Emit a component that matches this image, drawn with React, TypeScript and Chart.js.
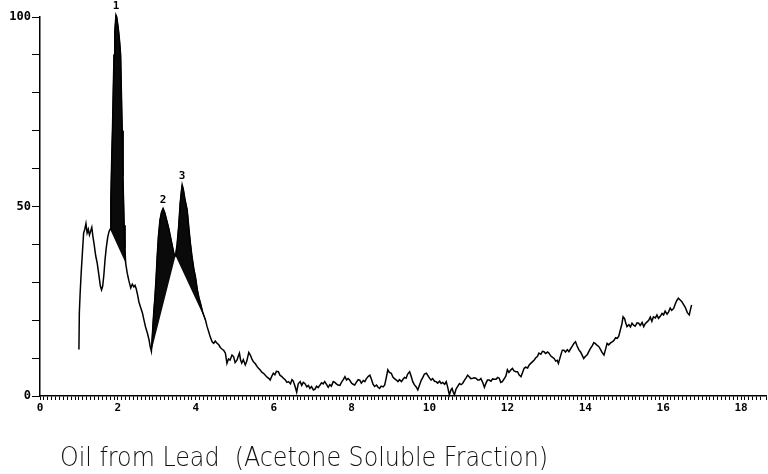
import React, { useEffect, useRef } from "react";
import { Chart, registerables } from "chart.js";

Chart.register(...registerables);

// Retention time (min) and detector response (%) — early part with the three marked peaks
const timeA = [
  0.98, 1.0, 1.01, 1.03, 1.06, 1.09, 1.12, 1.15, 1.18, 1.21, 1.24, 1.27, 1.3, 1.33, 1.36, 1.39, 1.43, 1.47,
  1.51, 1.55, 1.58, 1.61, 1.64, 1.67, 1.7, 1.74, 1.77, 1.8,
  1.82, 1.84, 1.86, 1.88, 1.9, 1.92, 1.95, 1.97, 2.01, 2.04, 2.07, 2.09, 2.11, 2.13, 2.16, 2.18, 2.2,
  2.24, 2.28, 2.33, 2.37, 2.41, 2.44, 2.47, 2.51, 2.54, 2.58, 2.63, 2.67, 2.71, 2.76, 2.8, 2.83, 2.86,
  2.89, 2.92, 2.95, 2.98, 3.01, 3.04, 3.08, 3.12, 3.16, 3.2, 3.25, 3.3, 3.35, 3.4, 3.44, 3.48,
  3.52, 3.56, 3.6, 3.63, 3.65, 3.68, 3.72, 3.78, 3.82, 3.86, 3.9, 3.95, 3.99, 4.04, 4.08, 4.12, 4.18, 4.25,
  4.29,
];
const signalA = [
  12.5, 13, 22, 27, 33, 38, 43, 44, 45.5, 43, 44, 42.5, 43.5, 44.5, 42, 40, 37, 35,
  32, 29, 28, 29, 32, 36, 39, 42, 43.3, 44,
  52, 62, 70, 80, 90, 96, 100.5, 100, 97, 94, 90, 80, 70, 58, 45, 39, 35,
  32.4, 30.5, 28.5, 29.5, 28.8, 29.2, 28.3, 26.5, 24.8, 23.5, 21.9, 20, 18.2, 16.5, 14.8, 13, 11.8,
  17, 22, 26, 31, 37, 42, 46.4, 48.5, 49.5, 48.5, 46.5, 44.5, 42, 39.5, 37.5, 37,
  40, 44.7, 51, 54, 55.7, 54.5, 52, 49, 44.5, 40.4, 37, 33.5, 31.5, 28, 26, 24.5, 22, 20,
  18.3,
];

// Middle part: low, noisy baseline
const timeB = [
  4.33, 4.37, 4.42, 4.46, 4.5, 4.54, 4.59, 4.63, 4.67, 4.72, 4.76, 4.8, 4.84, 4.88, 4.93, 4.97, 5.01, 5.06,
  5.09, 5.12, 5.15, 5.18, 5.22, 5.27, 5.31, 5.36, 5.4, 5.44, 5.48, 5.53, 5.57, 5.61, 5.66, 5.7, 5.74, 5.79,
  5.84, 5.88, 5.91, 5.95, 5.99, 6.03, 6.07, 6.12, 6.16, 6.21, 6.25, 6.3, 6.34, 6.38, 6.43, 6.47, 6.5, 6.55,
  6.59, 6.63, 6.68, 6.72, 6.76, 6.8, 6.85, 6.89, 6.93, 6.97, 7.02, 7.06, 7.1, 7.14, 7.19, 7.23, 7.27, 7.31,
  7.36, 7.4, 7.44, 7.48, 7.53, 7.57, 7.61, 7.65, 7.7, 7.74, 7.79, 7.83, 7.87, 7.91, 7.95, 8.0, 8.04, 8.08,
  8.12, 8.17, 8.21, 8.25, 8.3, 8.34, 8.38, 8.43, 8.47, 8.51, 8.55, 8.59, 8.64, 8.68, 8.72, 8.76, 8.81, 8.85,
  8.89, 8.93, 8.97, 9.02, 9.06, 9.1, 9.15, 9.19, 9.23, 9.28, 9.32, 9.36, 9.4, 9.44, 9.49, 9.53, 9.57, 9.61,
  9.66, 9.7, 9.74, 9.79, 9.83, 9.87, 9.92, 9.96, 10.0, 10.04, 10.08, 10.13, 10.17, 10.21, 10.26, 10.3, 10.34,
  10.39, 10.43, 10.47, 10.51, 10.55, 10.58, 10.61, 10.64, 10.68, 10.72,
];
const signalB = [
  17, 15.6, 14.3, 13.9, 14.5, 14, 13.5, 12.8, 12.4, 12, 11.3, 8.6, 9.8, 9.5, 10.8, 10.4, 8.8, 9.5,
  10.5, 11.3, 9.5, 8.7, 9.6, 8.2, 9.2, 11.5, 10.8, 9.8, 9, 8.5, 7.8, 7.3, 6.8, 6.2, 6, 5.4,
  4.9, 4.6, 4.2, 5.2, 6, 5.6, 6.5, 6.4, 5.5, 5.1, 4.7, 4.2, 3.6, 3.8, 3.2, 4.3, 4, 2.5,
  1, 3.2, 3.8, 2.8, 3.6, 3.3, 2.4, 2.8, 2, 2.5, 1.6, 1.8, 2.6, 2.2, 2.9, 3.5, 3.2, 3.8,
  3, 2.3, 3, 2.6, 3.8, 3.6, 3.2, 2.9, 2.8, 3.6, 4.4, 5.1, 4.2, 4.6, 4.2, 3.4, 3.1, 2.9,
  3.6, 4.3, 4.2, 3.4, 4.1, 3.8, 4.6, 5.2, 5.5, 4.4, 3.1, 2.5, 2.9, 2.3, 2, 2.6, 2.4, 2.9,
  4.8, 6.9, 6.2, 6, 5, 4.6, 4.2, 3.8, 4.3, 3.8, 4.4, 4.9, 4.7, 5.8, 6.4, 5.2, 3.8, 3,
  2.4, 1.6, 2.8, 4.2, 4.9, 5.8, 6, 5.4, 4.7, 4.2, 4.6, 3.9, 3.8, 3.4, 3.9, 3.3, 3.6,
  3.1, 3.8, 2.2, 0.3, 1.6, 2, 1, 0.3, 1.8, 2.5,
];

// Late part: rising baseline
const timeC = [
  10.77, 10.81, 10.85, 10.9, 10.94, 10.98, 11.02, 11.06, 11.11, 11.15, 11.19, 11.24, 11.28, 11.32, 11.37,
  11.41, 11.45, 11.49, 11.53, 11.58, 11.62, 11.66, 11.71, 11.75, 11.79, 11.83, 11.87, 11.92, 11.96, 12.0,
  12.04, 12.09, 12.13, 12.17, 12.22, 12.26, 12.3, 12.35, 12.39, 12.43, 12.47, 12.52, 12.56, 12.6, 12.64,
  12.69, 12.73, 12.77, 12.81, 12.86, 12.9, 12.94, 12.98, 13.03, 13.07, 13.11, 13.16, 13.2, 13.24, 13.28,
  13.31, 13.36, 13.41, 13.45, 13.49, 13.54, 13.58, 13.62, 13.67, 13.71, 13.75, 13.79, 13.84, 13.88, 13.92,
  13.96, 14.0, 14.05, 14.09, 14.13, 14.18, 14.22, 14.26, 14.3, 14.35, 14.39, 14.43, 14.48, 14.52, 14.56,
  14.6, 14.65, 14.69, 14.73, 14.78, 14.82, 14.86, 14.9, 14.94, 14.97, 15.01, 15.03, 15.07, 15.12, 15.16,
  15.2, 15.24, 15.28, 15.33, 15.37, 15.41, 15.46, 15.5, 15.54, 15.58, 15.63, 15.67, 15.71, 15.75, 15.8,
  15.84, 15.88, 15.93, 15.97, 16.01, 16.05, 16.1, 16.14, 16.18, 16.22, 16.27, 16.31, 16.35, 16.39, 16.43,
  16.48, 16.52, 16.56, 16.58, 16.62, 16.67, 16.7, 16.73,
];
const signalC = [
  3.3, 3, 3.3, 4.2, 4.8, 5.5, 5.1, 4.6, 4.7, 4.8, 4.7, 4.2, 4.2, 4.6, 3.5,
  2.3, 3.4, 4.2, 4.2, 3.9, 4.5, 4.4, 4.4, 4.9, 4.7, 3.6, 3.8, 4.6, 5.2, 6.9,
  6.2, 6.9, 7.3, 6.6, 6.4, 6.4, 5.6, 5.1, 6.2, 7.3, 7.6, 7.4, 8.2, 8.6, 9,
  9.5, 10.1, 10.4, 11.3, 11, 11.8, 11.7, 11.2, 11.6, 11.3, 10.6, 10.2, 9.9, 9.2, 9.4,
  8.6, 10.4, 12.1, 12.1, 11.6, 12.2, 11.7, 12.4, 13.2, 13.9, 14.3, 13.2, 12.1, 11.6, 10.8,
  9.9, 10.4, 10.9, 11.7, 12.5, 13.3, 14.1, 13.8, 13.4, 13, 12.3, 11.5, 10.8, 12.3, 13.9,
  13.5, 14, 14.3, 14.6, 15.4, 15.2, 15.8, 17.4, 19, 20.9, 20.4, 19.6, 18.3, 18.8, 18.2,
  19.2, 18.7, 18.4, 19.3, 19.2, 18.6, 19.4, 18.3, 19.1, 19.5, 20, 20.8, 19.7, 20.9, 20.6,
  21.4, 20.5, 21.1, 21.8, 21.4, 22.4, 21.6, 22.2, 23.2, 22.6, 23.1, 24.3, 25.2, 25.8, 25.4,
  24.9, 24.2, 23.5, 23.1, 22, 21.4, 22.8, 24,
];

// Marked peaks (shaded between their start and end on the trace)
const peakNumbers = ["1", "2", "3"];
const peakStart = [1.8, 2.86, 3.48];
const peakEnd = [2.2, 3.48, 4.25];

const yLabelValues = [0, 50, 100];
const xLabelStep = 2;
const titleText = "Oil from Lead  (Acetone Soluble Fraction)";

const trace = [
  ...timeA.map((x, i) => ({ x, y: signalA[i] })),
  ...timeB.map((x, i) => ({ x, y: signalB[i] })),
  ...timeC.map((x, i) => ({ x, y: signalC[i] })),
];

const peakSegments = peakStart.map((s, i) =>
  trace.filter((p) => p.x >= s - 1e-9 && p.x <= peakEnd[i] + 1e-9)
);

const annotate = {
  id: "annotate",
  afterDatasetsDraw(chart: any) {
    const { ctx, scales } = chart;
    ctx.save();
    ctx.fillStyle = "#000";
    ctx.font = "bold 11px 'DejaVu Sans Mono'";
    ctx.textAlign = "center";
    ctx.textBaseline = "bottom";
    peakSegments.forEach((seg, i) => {
      const apex = seg.reduce((a, b) => (b.y > a.y ? b : a));
      const px = scales.x.getPixelForValue(apex.x);
      const py = scales.y.getPixelForValue(apex.y);
      ctx.fillText(peakNumbers[i], px, py - 3);
    });
    ctx.font = "200 26px 'DejaVu Sans'";
    ctx.textAlign = "left";
    ctx.textBaseline = "alphabetic";
    ctx.fillStyle = "#111";
    ctx.fillText(titleText, 60, 466, 488);
    ctx.restore();
  },
};

export default function App() {
  const ref = useRef<HTMLCanvasElement | null>(null);

  useEffect(() => {
    if (!ref.current) return;
    const isMultiple = (v: number, step: number) => {
      const r = Math.round(v / step);
      return Math.abs(v - r * step) < 1e-6;
    };
    const chart = new Chart(ref.current, {
      type: "line",
      data: {
        datasets: [
          {
            label: "trace",
            data: trace,
            borderColor: "#000",
            borderWidth: 1.5,
            pointRadius: 0,
            tension: 0,
            fill: false,
            clip: false,
            order: 0,
          } as any,
          ...peakSegments.map(
            (seg, i) =>
              ({
                label: "peak " + peakNumbers[i],
                data: seg,
                borderColor: "#000",
                borderWidth: 1,
                backgroundColor: "#0a0a0a",
                pointRadius: 0,
                tension: 0,
                fill: "shape",
                clip: false,
                order: 1,
              } as any)
          ),
        ],
      },
      options: {
        animation: false,
        responsive: false,
        parsing: false as any,
        layout: { padding: { top: 17, left: 0, right: 0, bottom: 0 } },
        plugins: {
          legend: { display: false },
          tooltip: { enabled: false },
          title: { display: false },
        },
        scales: {
          x: {
            type: "linear",
            position: "bottom",
            min: 0,
            max: 18.64,
            grid: { drawOnChartArea: false, drawTicks: true, tickLength: 4, color: "#000", lineWidth: 1 },
            border: { display: true, color: "#000", width: 1.5 },
            ticks: {
              stepSize: 0.1,
              autoSkip: false,
              maxRotation: 0,
              minRotation: 0,
              padding: 2,
              color: "#000",
              font: { family: "DejaVu Sans Mono", size: 11, weight: "bold" },
              callback: (v: any) => (isMultiple(Number(v), xLabelStep) ? String(Math.round(Number(v))) : ""),
            },
            afterFit: (s: any) => {
              s.height = 78;
            },
          },
          y: {
            type: "linear",
            min: 0,
            max: 100,
            grid: { drawOnChartArea: false, drawTicks: true, tickLength: 8, color: "#000", lineWidth: 1 },
            border: { display: true, color: "#000", width: 1.5 },
            ticks: {
              stepSize: 10,
              autoSkip: false,
              padding: 1,
              color: "#000",
              font: { family: "DejaVu Sans Mono", size: 12, weight: "bold" },
              callback: (v: any) => (yLabelValues.some((t) => Math.abs(t - Number(v)) < 1e-6) ? String(Math.round(Number(v))) : ""),
            },
            afterFit: (s: any) => {
              s.width = 40;
            },
          },
        },
      } as any,
      plugins: [annotate],
    });
    return () => chart.destroy();
  }, []);

  return (
    <div style={{ position: "fixed", left: 0, top: 0, width: 768, height: 474, background: "#fff" }}>
      <canvas ref={ref} width={768} height={474} style={{ display: "block" }} />
    </div>
  );
}
